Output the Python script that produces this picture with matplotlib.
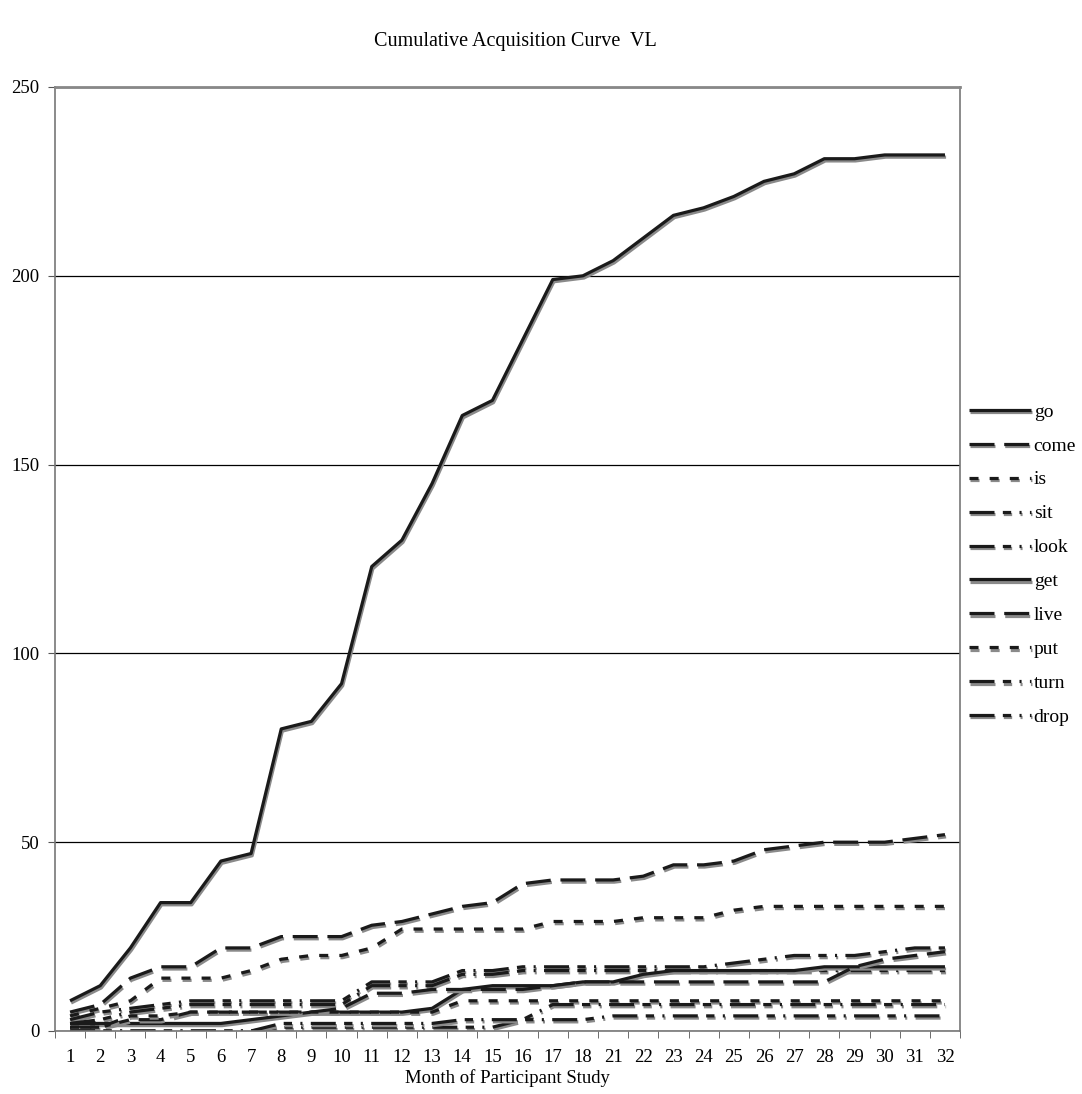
import numpy as np
import matplotlib
matplotlib.use("Agg")
import matplotlib.pyplot as plt
import matplotlib.patheffects as pe

plt.rcParams['font.family'] = ['Liberation Serif', 'DejaVu Serif']
plt.rcParams['lines.scale_dashes'] = False

months = ['1', '2', '3', '4', '5', '6', '7', '8', '9', '10', '11', '12', '13', '14', '15',
          '16', '17', '18', '21', '22', '23', '24', '25', '26', '27', '28', '29', '30', '31', '32']

go = [8, 12, 22, 34, 34, 45, 47, 80, 82, 92, 123, 130, 145, 163, 167, 183, 199, 200,
      204, 210, 216, 218, 221, 225, 227, 231, 231, 232, 232, 232]
come = [5, 7, 14, 17, 17, 22, 22, 25, 25, 25, 28, 29, 31, 33, 34, 39, 40, 40,
        40, 41, 44, 44, 45, 48, 49, 50, 50, 50, 51, 52]
is_ = [4, 6, 8, 14, 14, 14, 16, 19, 20, 20, 22, 27, 27, 27, 27, 27, 29, 29,
       29, 30, 30, 30, 32, 33, 33, 33, 33, 33, 33, 33]
sit = [3, 5, 6, 7, 8, 8, 8, 8, 8, 8, 13, 13, 13, 16, 16, 17, 17, 17,
       17, 17, 17, 17, 18, 19, 20, 20, 20, 21, 22, 22]
look = [2, 3, 5, 6, 7, 7, 7, 7, 7, 7, 12, 12, 12, 15, 15, 16, 16, 16,
        16, 16, 16, 16, 16, 16, 16, 16, 16, 16, 16, 16]
get = [2, 2, 2, 2, 2, 2, 3, 4, 5, 5, 5, 5, 6, 11, 12, 12, 12, 13,
       13, 15, 16, 16, 16, 16, 16, 17, 17, 17, 17, 17]
live = [1, 1, 3, 3, 5, 5, 5, 5, 5, 6, 10, 10, 11, 11, 11, 11, 12, 13,
        13, 13, 13, 13, 13, 13, 13, 13, 17, 19, 20, 21]
put = [1, 1, 4, 4, 5, 5, 5, 5, 5, 5, 5, 5, 5, 8, 8, 8, 8, 8,
       8, 8, 8, 8, 8, 8, 8, 8, 8, 8, 8, 8]
turn = [0, 0, 0, 0, 0, 0, 0, 1, 1, 1, 1, 1, 1, 1, 1, 3, 7, 7,
        7, 7, 7, 7, 7, 7, 7, 7, 7, 7, 7, 7]
drop = [0, 0, 0, 0, 0, 0, 0, 2, 2, 2, 2, 2, 2, 3, 3, 3, 3, 3,
        4, 4, 4, 4, 4, 4, 4, 4, 4, 4, 4, 4]

solid = (0, ())
longdash = (0, (18, 7))
shortdash = (0, (6.5, 8))
dashdot = (0, (18, 6, 6, 6, 1.5, 6))

series = [
    ('go', go, solid), ('come', come, longdash), ('is', is_, shortdash),
    ('sit', sit, dashdot), ('look', look, dashdot), ('get', get, solid),
    ('live', live, longdash), ('put', put, shortdash), ('turn', turn, dashdot),
    ('drop', drop, dashdot),
]

fig = plt.figure(figsize=(10.82, 10.94), dpi=100)
ax = fig.add_axes([0.0508, 0.0576, 0.8365, 0.8629])

x = np.arange(len(months))
shadow = [pe.SimpleLineShadow(offset=(0.8, -1.6), shadow_color='#8a8a8a', alpha=1.0),
          pe.Normal()]
for name, vals, ls in series:
    ax.plot(x, vals, color='#1a1a1a', lw=2.3, linestyle=ls, label=name,
            path_effects=shadow, solid_joinstyle='miter', dash_capstyle='butt')

ax.set_xlim(-0.5, len(months) - 0.5)
ax.set_ylim(0, 250)
ax.set_yticks([0, 50, 100, 150, 200, 250])
ax.set_xticks(x)
ax.set_xticklabels(months)
ax.set_xticks(np.arange(-0.5, len(months)), minor=True)
ax.tick_params(axis='x', which='major', length=0, labelsize=13.5, pad=13)
ax.tick_params(axis='x', which='minor', length=5, direction='out', color='#555555')
ax.tick_params(axis='y', length=5, direction='out', labelsize=13.5, color='#555555', pad=6)

ax.yaxis.grid(True, color='black', lw=0.9)
ax.set_axisbelow(True)
for s in ['left', 'bottom', 'right']:
    ax.spines[s].set_color('#777777')
    ax.spines[s].set_linewidth(1.2)
ax.spines['top'].set_color('#888888')
ax.spines['top'].set_linewidth(2)

ax.set_xlabel('Month of Participant Study', fontsize=13.5, labelpad=2)
fig.text(0.476, 0.962, 'Cumulative Acquisition Curve  VL', ha='center', va='center', fontsize=14.5)

handles, labels = ax.get_legend_handles_labels()
leg = fig.legend(handles, labels, loc='center left', bbox_to_anchor=(0.879, 0.484),
                 frameon=False, fontsize=14, handlelength=3.2, handletextpad=0.15,
                 labelspacing=0.84)

fig.savefig('out.png', dpi=100)
